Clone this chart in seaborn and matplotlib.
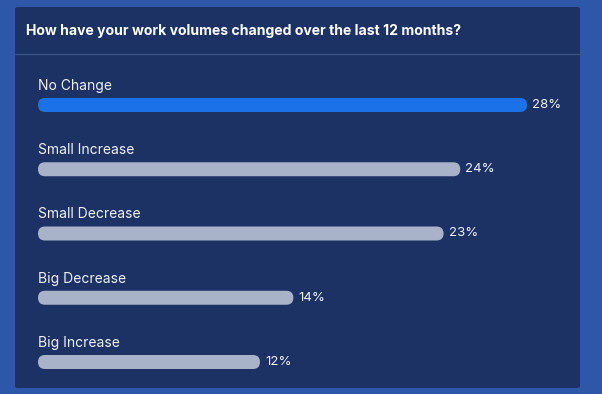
import matplotlib
matplotlib.use('Agg')
import matplotlib.pyplot as plt
import seaborn as sns
import pandas as pd
from matplotlib.patches import FancyBboxPatch

sns.set_style('white')
plt.rcParams['font.family'] = ['Inter', 'DejaVu Sans']

# 数据
title = 'How have your work volumes changed over the last 12 months?'
categories = ['No Change', 'Small Increase', 'Small Decrease', 'Big Decrease', 'Big Increase']
values = [28, 24, 23, 14, 12]
bar_colors = ['#1b72e8', '#a8b2c8', '#a8b2c8', '#a8b2c8', '#a8b2c8']

df = pd.DataFrame({'answer': categories, 'pct': values})

W, H = 602, 394
fig = plt.figure(figsize=(W / 100, H / 100), dpi=100)
fig.patch.set_facecolor('#2e56a9')

# 卡片背景
card = FancyBboxPatch((15 / W, 1 - 388 / H), 565 / W, 381 / H,
                      boxstyle='round,pad=0,rounding_size=0.005',
                      transform=fig.transFigure, facecolor='#1c3265',
                      edgecolor='none', zorder=-10)
fig.add_artist(card)
fig.add_artist(plt.Line2D([15 / W, 580 / W], [1 - 54 / H, 1 - 54 / H],
                          transform=fig.transFigure, color='#3b5488', lw=0.9,
                          zorder=-5))
fig.text(26 / W, 1 - 31 / H, title, color='white', fontsize=10.1,
         fontweight='bold', va='center', ha='left')

# 坐标轴: 1% = 16.69 px, 类别间距 64.25 px
px_x = 1 / 16.69
px_y = 1 / 64.25
pad_x = 10.85 * px_x
ax_left, ax_right, ax_top, ax_bottom = 38, 580, 60, 388
ax = fig.add_axes([ax_left / W, 1 - ax_bottom / H, (ax_right - ax_left) / W, (ax_bottom - ax_top) / H])
ax.set_facecolor('none')
ax.set_zorder(5)

bar_h = 14 * px_y
sns.barplot(data=df, x='pct', y='answer', hue='answer', palette=bar_colors,
            orient='h', width=bar_h, saturation=1, legend=False, ax=ax)

ax.set_xlim(-pad_x, -pad_x + (ax_right - ax_left) * px_x)
ax.set_ylim(4 + (ax_bottom - 362) * px_y, -(105 - ax_top) * px_y)

aspect = px_y / px_x
for p in list(ax.patches):
    x0, y0, w, h = p.get_x(), p.get_y(), p.get_width(), p.get_height()
    rb = FancyBboxPatch((x0 - pad_x, y0), w + 2 * pad_x, h,
                        boxstyle=f'round,pad=0,rounding_size={7 * px_x}',
                        mutation_aspect=aspect, facecolor=p.get_facecolor(),
                        edgecolor='none')
    p.set_visible(False)
    ax.add_patch(rb)

for i, (cat, v) in enumerate(zip(categories, values)):
    ax.text(-pad_x, i - 19 * px_y, cat, color='#eef1f7', fontsize=10,
            va='center', ha='left')
    ax.text(v + pad_x + 5 * px_x, i, f'{v}%', color='#eef1f7', fontsize=9.5,
            va='center', ha='left')

ax.set_xlabel('')
ax.set_ylabel('')
ax.set_xticks([])
ax.set_yticks([])
sns.despine(ax=ax, left=True, bottom=True)

fig.savefig('out.png', dpi=100, facecolor=fig.get_facecolor())
